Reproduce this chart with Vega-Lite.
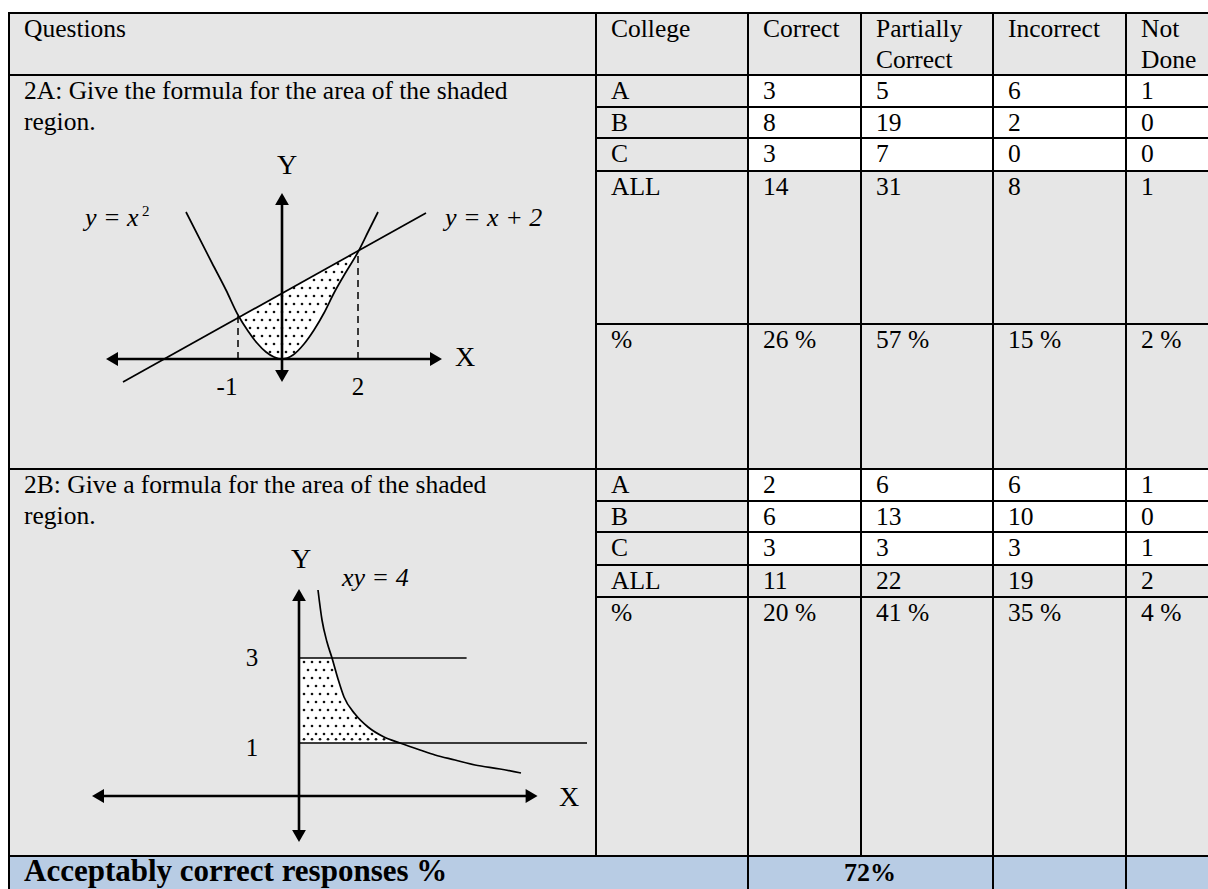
{
  "$schema": "https://vega.github.io/schema/vega-lite/v6.json",
  "width": 1208,
  "height": 889,
  "padding": 0,
  "autosize": {"type": "none"},
  "background": "#ffffff",
  "config": {"view": {"stroke": null}, "text": {"font": "Liberation Serif", "color": "#000000"}},
  "resolve": {"scale": {"x": "independent", "y": "independent"}},
  "layer": [
    {
      "layer": [
        {
          "data": {"values": [
            {"kind": "shaded", "c": 0, "c2": 6, "r": 0, "r2": 11},
            {"kind": "plain", "c": 2, "c2": 6, "r": 1, "r2": 4},
            {"kind": "plain", "c": 2, "c2": 6, "r": 6, "r2": 9},
            {"kind": "summary", "c": 0, "c2": 6, "r": 11, "r2": 12}
          ]},
          "mark": {"type": "rect"},
          "encoding": {
            "x": {"field": "c", "type": "quantitative", "axis": null, "scale": {"domain": [0,1,2,3,4,5,6], "range": [9,596,748,861,993,1126,1210], "nice": false, "zero": false}},
            "x2": {"field": "c2"},
            "y": {"field": "r", "type": "quantitative", "axis": null, "scale": {"domain": [0,1,2,3,4,5,6,7,8,9,10,11,12], "range": [13,75,107,138,171,324,469,501,532,565,597,856,892], "nice": false, "zero": false}},
            "y2": {"field": "r2"},
            "fill": {"field": "kind", "type": "nominal", "legend": null, "scale": {"domain": ["shaded", "plain", "summary"], "range": ["#e6e6e6", "#ffffff", "#b8cce4"]}}
          }
        },
        {
          "data": {"values": [
            {"c": 0, "c2": 6, "r": 0, "r2": 0},
            {"c": 0, "c2": 6, "r": 1, "r2": 1},
            {"c": 1, "c2": 6, "r": 2, "r2": 2},
            {"c": 1, "c2": 6, "r": 3, "r2": 3},
            {"c": 1, "c2": 6, "r": 4, "r2": 4},
            {"c": 1, "c2": 6, "r": 5, "r2": 5},
            {"c": 0, "c2": 6, "r": 6, "r2": 6},
            {"c": 1, "c2": 6, "r": 7, "r2": 7},
            {"c": 1, "c2": 6, "r": 8, "r2": 8},
            {"c": 1, "c2": 6, "r": 9, "r2": 9},
            {"c": 1, "c2": 6, "r": 10, "r2": 10},
            {"c": 0, "c2": 6, "r": 11, "r2": 11},
            {"c": 0, "c2": 0, "r": 0, "r2": 12},
            {"c": 1, "c2": 1, "r": 0, "r2": 11},
            {"c": 2, "c2": 2, "r": 0, "r2": 12},
            {"c": 3, "c2": 3, "r": 0, "r2": 11},
            {"c": 4, "c2": 4, "r": 0, "r2": 12},
            {"c": 5, "c2": 5, "r": 0, "r2": 12}
          ]},
          "mark": {"type": "rule", "color": "#000000", "strokeWidth": 2, "strokeCap": "square"},
          "encoding": {
            "x": {"field": "c", "type": "quantitative", "axis": null, "scale": {"domain": [0,1,2,3,4,5,6], "range": [9,596,748,861,993,1126,1210], "nice": false, "zero": false}},
            "x2": {"field": "c2"},
            "y": {"field": "r", "type": "quantitative", "axis": null, "scale": {"domain": [0,1,2,3,4,5,6,7,8,9,10,11,12], "range": [13,75,107,138,171,324,469,501,532,565,597,856,892], "nice": false, "zero": false}},
            "y2": {"field": "r2"}
          }
        },
        {
          "data": {"values": [
            {"c": 0, "r": 0, "t": "Questions"},
            {"c": 1, "r": 0, "t": "College"},
            {"c": 2, "r": 0, "t": "Correct"},
            {"c": 3, "r": 0, "t": "Partially\nCorrect"},
            {"c": 4, "r": 0, "t": "Incorrect"},
            {"c": 5, "r": 0, "t": "Not\nDone"},
            {"c": 0, "r": 1, "t": "2A: Give the formula for the area of the shaded\nregion."},
            {"c": 1, "r": 1, "t": "A"}, {"c": 2, "r": 1, "t": "3"}, {"c": 3, "r": 1, "t": "5"}, {"c": 4, "r": 1, "t": "6"}, {"c": 5, "r": 1, "t": "1"},
            {"c": 1, "r": 2, "t": "B"}, {"c": 2, "r": 2, "t": "8"}, {"c": 3, "r": 2, "t": "19"}, {"c": 4, "r": 2, "t": "2"}, {"c": 5, "r": 2, "t": "0"},
            {"c": 1, "r": 3, "t": "C"}, {"c": 2, "r": 3, "t": "3"}, {"c": 3, "r": 3, "t": "7"}, {"c": 4, "r": 3, "t": "0"}, {"c": 5, "r": 3, "t": "0"},
            {"c": 1, "r": 4, "t": "ALL"}, {"c": 2, "r": 4, "t": "14"}, {"c": 3, "r": 4, "t": "31"}, {"c": 4, "r": 4, "t": "8"}, {"c": 5, "r": 4, "t": "1"},
            {"c": 1, "r": 5, "t": "%"}, {"c": 2, "r": 5, "t": "26 %"}, {"c": 3, "r": 5, "t": "57 %"}, {"c": 4, "r": 5, "t": "15 %"}, {"c": 5, "r": 5, "t": "2 %"},
            {"c": 0, "r": 6, "t": "2B: Give a formula for the area of the shaded\nregion."},
            {"c": 1, "r": 6, "t": "A"}, {"c": 2, "r": 6, "t": "2"}, {"c": 3, "r": 6, "t": "6"}, {"c": 4, "r": 6, "t": "6"}, {"c": 5, "r": 6, "t": "1"},
            {"c": 1, "r": 7, "t": "B"}, {"c": 2, "r": 7, "t": "6"}, {"c": 3, "r": 7, "t": "13"}, {"c": 4, "r": 7, "t": "10"}, {"c": 5, "r": 7, "t": "0"},
            {"c": 1, "r": 8, "t": "C"}, {"c": 2, "r": 8, "t": "3"}, {"c": 3, "r": 8, "t": "3"}, {"c": 4, "r": 8, "t": "3"}, {"c": 5, "r": 8, "t": "1"},
            {"c": 1, "r": 9, "t": "ALL"}, {"c": 2, "r": 9, "t": "11"}, {"c": 3, "r": 9, "t": "22"}, {"c": 4, "r": 9, "t": "19"}, {"c": 5, "r": 9, "t": "2"},
            {"c": 1, "r": 10, "t": "%"}, {"c": 2, "r": 10, "t": "20 %"}, {"c": 3, "r": 10, "t": "41 %"}, {"c": 4, "r": 10, "t": "35 %"}, {"c": 5, "r": 10, "t": "4 %"}
          ]},
          "mark": {"type": "text", "align": "left", "baseline": "alphabetic", "dx": 15, "dy": 24, "fontSize": 25.5, "lineBreak": "\n", "lineHeight": 31},
          "encoding": {
            "x": {"field": "c", "type": "quantitative", "axis": null, "scale": {"domain": [0,1,2,3,4,5,6], "range": [9,596,748,861,993,1126,1210], "nice": false, "zero": false}},
            "y": {"field": "r", "type": "quantitative", "axis": null, "scale": {"domain": [0,1,2,3,4,5,6,7,8,9,10,11,12], "range": [13,75,107,138,171,324,469,501,532,565,597,856,892], "nice": false, "zero": false}},
            "text": {"field": "t"}
          }
        },
        {
          "data": {"values": [{"c": 0, "r": 11, "t": "Acceptably correct responses %"}]},
          "mark": {"type": "text", "align": "left", "baseline": "alphabetic", "dx": 15, "dy": 25, "fontSize": 31, "fontWeight": "bold"},
          "encoding": {
            "x": {"field": "c", "type": "quantitative", "axis": null, "scale": {"domain": [0,1,2,3,4,5,6], "range": [9,596,748,861,993,1126,1210], "nice": false, "zero": false}},
            "y": {"field": "r", "type": "quantitative", "axis": null, "scale": {"domain": [0,1,2,3,4,5,6,7,8,9,10,11,12], "range": [13,75,107,138,171,324,469,501,532,565,597,856,892], "nice": false, "zero": false}},
            "text": {"field": "t"}
          }
        },
        {
          "data": {"values": [{"c": 3, "r": 11, "t": "72%"}]},
          "mark": {"type": "text", "align": "center", "baseline": "alphabetic", "dx": 9, "dy": 25, "fontSize": 26, "fontWeight": "bold"},
          "encoding": {
            "x": {"field": "c", "type": "quantitative", "axis": null, "scale": {"domain": [0,1,2,3,4,5,6], "range": [9,596,748,861,993,1126,1210], "nice": false, "zero": false}},
            "y": {"field": "r", "type": "quantitative", "axis": null, "scale": {"domain": [0,1,2,3,4,5,6,7,8,9,10,11,12], "range": [13,75,107,138,171,324,469,501,532,565,597,856,892], "nice": false, "zero": false}},
            "text": {"field": "t"}
          }
        }
      ]
    },
    {
      "layer": [
        {
          "data": {"values": [
            {"x": -1.1, "lo": 1.1, "hi": 1.1},
            {"x": -0.85, "lo": 0.7, "hi": 1.169},
            {"x": -0.625, "lo": 0.4, "hi": 1.294},
            {"x": -0.4, "lo": 0.175, "hi": 1.42},
            {"x": -0.2, "lo": 0.05, "hi": 1.531},
            {"x": 0, "lo": 0, "hi": 1.643},
            {"x": 0.275, "lo": 0.1, "hi": 1.796},
            {"x": 0.55, "lo": 0.375, "hi": 1.95},
            {"x": 0.8, "lo": 0.725, "hi": 2.09},
            {"x": 1.05, "lo": 1.15, "hi": 2.229},
            {"x": 1.3, "lo": 1.65, "hi": 2.369},
            {"x": 1.6, "lo": 2.175, "hi": 2.536},
            {"x": 1.9, "lo": 2.675, "hi": 2.703}
          ]},
          "mark": {"type": "area", "fill": "#ffffff", "interpolate": "monotone"},
          "encoding": {
            "x": {"field": "x", "type": "quantitative", "axis": null, "scale": {"domain": [0, 10], "range": [282, 682], "nice": false, "zero": false}},
            "y": {"field": "lo", "type": "quantitative", "axis": null, "scale": {"domain": [0, 10], "range": [359, -41], "nice": false, "zero": false}},
            "y2": {"field": "hi"}
          }
        },
        {
          "data": {"values": [
            {"x": 1.7, "y": 2.575},
            {"x": 1.4, "y": 2.375}, {"x": 1.6, "y": 2.375},
            {"x": 1.1, "y": 2.175}, {"x": 1.3, "y": 2.175}, {"x": 1.5, "y": 2.175},
            {"x": 0.8, "y": 1.975}, {"x": 1.0, "y": 1.975}, {"x": 1.2, "y": 1.975}, {"x": 1.4, "y": 1.975},
            {"x": 0.3, "y": 1.775}, {"x": 0.5, "y": 1.775}, {"x": 0.7, "y": 1.775}, {"x": 0.9, "y": 1.775}, {"x": 1.1, "y": 1.775}, {"x": 1.3, "y": 1.775},
            {"x": 0.0, "y": 1.575}, {"x": 0.2, "y": 1.575}, {"x": 0.4, "y": 1.575}, {"x": 0.6, "y": 1.575}, {"x": 0.8, "y": 1.575}, {"x": 1.0, "y": 1.575}, {"x": 1.2, "y": 1.575},
            {"x": -0.3, "y": 1.375}, {"x": -0.1, "y": 1.375}, {"x": 0.1, "y": 1.375}, {"x": 0.3, "y": 1.375}, {"x": 0.5, "y": 1.375}, {"x": 0.7, "y": 1.375}, {"x": 0.9, "y": 1.375}, {"x": 1.1, "y": 1.375},
            {"x": -0.6, "y": 1.175}, {"x": -0.4, "y": 1.175}, {"x": -0.2, "y": 1.175}, {"x": 0.0, "y": 1.175}, {"x": 0.2, "y": 1.175}, {"x": 0.4, "y": 1.175}, {"x": 0.6, "y": 1.175}, {"x": 0.8, "y": 1.175},
            {"x": -0.9, "y": 0.975}, {"x": -0.7, "y": 0.975}, {"x": -0.5, "y": 0.975}, {"x": -0.3, "y": 0.975}, {"x": -0.1, "y": 0.975}, {"x": 0.1, "y": 0.975}, {"x": 0.3, "y": 0.975}, {"x": 0.5, "y": 0.975}, {"x": 0.7, "y": 0.975},
            {"x": -0.8, "y": 0.775}, {"x": -0.6, "y": 0.775}, {"x": -0.4, "y": 0.775}, {"x": -0.2, "y": 0.775}, {"x": 0.0, "y": 0.775}, {"x": 0.2, "y": 0.775}, {"x": 0.4, "y": 0.775}, {"x": 0.6, "y": 0.775},
            {"x": -0.7, "y": 0.575}, {"x": -0.5, "y": 0.575}, {"x": -0.3, "y": 0.575}, {"x": -0.1, "y": 0.575}, {"x": 0.1, "y": 0.575}, {"x": 0.3, "y": 0.575}, {"x": 0.5, "y": 0.575},
            {"x": -0.4, "y": 0.375}, {"x": -0.2, "y": 0.375}, {"x": 0.0, "y": 0.375}, {"x": 0.2, "y": 0.375}, {"x": 0.4, "y": 0.375},
            {"x": -0.3, "y": 0.175}, {"x": -0.1, "y": 0.175}, {"x": 0.1, "y": 0.175}, {"x": 0.3, "y": 0.175}
          ]},
          "mark": {"type": "point", "filled": true, "size": 7, "color": "#111111", "opacity": 1},
          "encoding": {
            "x": {"field": "x", "type": "quantitative", "axis": null, "scale": {"domain": [0, 10], "range": [282, 682], "nice": false, "zero": false}},
            "y": {"field": "y", "type": "quantitative", "axis": null, "scale": {"domain": [0, 10], "range": [359, -41], "nice": false, "zero": false}}
          }
        },
        {
          "data": {"values": [
            {"x": -2.4, "y": 3.675}, {"x": -1.75, "y": 2.4}, {"x": -1.4, "y": 1.725}, {"x": -1.1, "y": 1.1},
            {"x": -0.85, "y": 0.7}, {"x": -0.625, "y": 0.4}, {"x": -0.4, "y": 0.175}, {"x": -0.2, "y": 0.05},
            {"x": 0, "y": 0}, {"x": 0.275, "y": 0.1}, {"x": 0.55, "y": 0.375}, {"x": 0.8, "y": 0.725},
            {"x": 1.05, "y": 1.15}, {"x": 1.3, "y": 1.65}, {"x": 1.6, "y": 2.175}, {"x": 1.9, "y": 2.675},
            {"x": 2.15, "y": 3.175}, {"x": 2.4, "y": 3.675}
          ]},
          "mark": {"type": "line", "color": "#000000", "strokeWidth": 1.7, "interpolate": "monotone"},
          "encoding": {
            "x": {"field": "x", "type": "quantitative", "axis": null, "scale": {"domain": [0, 10], "range": [282, 682], "nice": false, "zero": false}},
            "y": {"field": "y", "type": "quantitative", "axis": null, "scale": {"domain": [0, 10], "range": [359, -41], "nice": false, "zero": false}}
          }
        },
        {
          "data": {"values": [
            {"x": -3.975, "y": -0.575, "x2": 3.6, "y2": 3.65}
          ]},
          "mark": {"type": "rule", "color": "#000000", "strokeWidth": 1.7},
          "encoding": {
            "x": {"field": "x", "type": "quantitative", "axis": null, "scale": {"domain": [0, 10], "range": [282, 682], "nice": false, "zero": false}},
            "y": {"field": "y", "type": "quantitative", "axis": null, "scale": {"domain": [0, 10], "range": [359, -41], "nice": false, "zero": false}},
            "x2": {"field": "x2"},
            "y2": {"field": "y2"}
          }
        },
        {
          "data": {"values": [
            {"x": -1.1, "y": 0, "x2": -1.1, "y2": 1.1},
            {"x": 1.9, "y": 0, "x2": 1.9, "y2": 2.675}
          ]},
          "mark": {"type": "rule", "color": "#000000", "strokeWidth": 1.5, "strokeDash": [7, 5]},
          "encoding": {
            "x": {"field": "x", "type": "quantitative", "axis": null, "scale": {"domain": [0, 10], "range": [282, 682], "nice": false, "zero": false}},
            "y": {"field": "y", "type": "quantitative", "axis": null, "scale": {"domain": [0, 10], "range": [359, -41], "nice": false, "zero": false}},
            "x2": {"field": "x2"},
            "y2": {"field": "y2"}
          }
        },
        {
          "data": {"values": [
            {"x": -4.25, "y": 0, "x2": 3.85, "y2": 0},
            {"x": 0, "y": -0.425, "x2": 0, "y2": 4.0}
          ]},
          "mark": {"type": "rule", "color": "#000000", "strokeWidth": 2.6},
          "encoding": {
            "x": {"field": "x", "type": "quantitative", "axis": null, "scale": {"domain": [0, 10], "range": [282, 682], "nice": false, "zero": false}},
            "y": {"field": "y", "type": "quantitative", "axis": null, "scale": {"domain": [0, 10], "range": [359, -41], "nice": false, "zero": false}},
            "x2": {"field": "x2"},
            "y2": {"field": "y2"}
          }
        },
        {
          "data": {"values": [
            {"x": 0, "y": 4.0, "dir": "up"},
            {"x": 0, "y": -0.425, "dir": "down"},
            {"x": -4.25, "y": 0, "dir": "left"},
            {"x": 3.85, "y": 0, "dir": "right"}
          ]},
          "mark": {"type": "point", "filled": true, "size": 190, "color": "#000000", "opacity": 1},
          "encoding": {
            "x": {"field": "x", "type": "quantitative", "axis": null, "scale": {"domain": [0, 10], "range": [282, 682], "nice": false, "zero": false}},
            "y": {"field": "y", "type": "quantitative", "axis": null, "scale": {"domain": [0, 10], "range": [359, -41], "nice": false, "zero": false}},
            "shape": {"field": "dir", "type": "nominal", "legend": null, "scale": {"domain": ["up", "down", "left", "right"], "range": ["triangle-up", "triangle-down", "triangle-left", "triangle-right"]}}
          }
        },
        {
          "data": {"values": [
            {"x": 0.125, "y": 4.825, "t": "Y"},
            {"x": 4.575, "y": 0.025, "t": "X"}
          ]},
          "mark": {"type": "text", "align": "center", "baseline": "middle", "fontSize": 28},
          "encoding": {
            "x": {"field": "x", "type": "quantitative", "axis": null, "scale": {"domain": [0, 10], "range": [282, 682], "nice": false, "zero": false}},
            "y": {"field": "y", "type": "quantitative", "axis": null, "scale": {"domain": [0, 10], "range": [359, -41], "nice": false, "zero": false}},
            "text": {"field": "t"}
          }
        },
        {
          "data": {"values": [
            {"x": -1.375, "y": -0.7, "t": "-1"},
            {"x": 1.9, "y": -0.7, "t": "2"}
          ]},
          "mark": {"type": "text", "align": "center", "baseline": "middle", "fontSize": 25},
          "encoding": {
            "x": {"field": "x", "type": "quantitative", "axis": null, "scale": {"domain": [0, 10], "range": [282, 682], "nice": false, "zero": false}},
            "y": {"field": "y", "type": "quantitative", "axis": null, "scale": {"domain": [0, 10], "range": [359, -41], "nice": false, "zero": false}},
            "text": {"field": "t"}
          }
        },
        {
          "data": {"values": [
            {"x": -4.925, "y": 3.525, "t": "y = x"},
            {"x": 4.075, "y": 3.525, "t": "y = x + 2"}
          ]},
          "mark": {"type": "text", "align": "left", "baseline": "middle", "fontSize": 26, "fontStyle": "italic"},
          "encoding": {
            "x": {"field": "x", "type": "quantitative", "axis": null, "scale": {"domain": [0, 10], "range": [282, 682], "nice": false, "zero": false}},
            "y": {"field": "y", "type": "quantitative", "axis": null, "scale": {"domain": [0, 10], "range": [359, -41], "nice": false, "zero": false}},
            "text": {"field": "t"}
          }
        },
        {
          "data": {"values": [
            {"x": -3.5, "y": 3.7, "t": "2"}
          ]},
          "mark": {"type": "text", "align": "left", "baseline": "middle", "fontSize": 15},
          "encoding": {
            "x": {"field": "x", "type": "quantitative", "axis": null, "scale": {"domain": [0, 10], "range": [282, 682], "nice": false, "zero": false}},
            "y": {"field": "y", "type": "quantitative", "axis": null, "scale": {"domain": [0, 10], "range": [359, -41], "nice": false, "zero": false}},
            "text": {"field": "t"}
          }
        }
      ]
    },
    {
      "layer": [
        {
          "data": {"values": [
            {"x": 0, "lo": 1.325, "hi": 3.45},
            {"x": 0.825, "lo": 1.325, "hi": 3.45},
            {"x": 0.975, "lo": 1.325, "hi": 2.925},
            {"x": 1.125, "lo": 1.325, "hi": 2.475},
            {"x": 1.4, "lo": 1.325, "hi": 2.05},
            {"x": 1.725, "lo": 1.325, "hi": 1.725},
            {"x": 2.125, "lo": 1.325, "hi": 1.475},
            {"x": 2.525, "lo": 1.325, "hi": 1.325}
          ]},
          "mark": {"type": "area", "fill": "#ffffff", "interpolate": "linear"},
          "encoding": {
            "x": {"field": "x", "type": "quantitative", "axis": null, "scale": {"domain": [0, 10], "range": [299, 699], "nice": false, "zero": false}},
            "y": {"field": "lo", "type": "quantitative", "axis": null, "scale": {"domain": [0, 10], "range": [796, 396], "nice": false, "zero": false}},
            "y2": {"field": "hi"}
          }
        },
        {
          "data": {"values": [
            {"x": 0.125, "y": 3.35}, {"x": 0.325, "y": 3.35}, {"x": 0.525, "y": 3.35}, {"x": 0.725, "y": 3.35},
            {"x": 0.225, "y": 3.15}, {"x": 0.425, "y": 3.15}, {"x": 0.625, "y": 3.15}, {"x": 0.825, "y": 3.15},
            {"x": 0.125, "y": 2.95}, {"x": 0.325, "y": 2.95}, {"x": 0.525, "y": 2.95}, {"x": 0.725, "y": 2.95},
            {"x": 0.225, "y": 2.75}, {"x": 0.425, "y": 2.75}, {"x": 0.625, "y": 2.75}, {"x": 0.825, "y": 2.75},
            {"x": 0.125, "y": 2.55}, {"x": 0.325, "y": 2.55}, {"x": 0.525, "y": 2.55}, {"x": 0.725, "y": 2.55}, {"x": 0.925, "y": 2.55},
            {"x": 0.225, "y": 2.35}, {"x": 0.425, "y": 2.35}, {"x": 0.625, "y": 2.35}, {"x": 0.825, "y": 2.35}, {"x": 1.025, "y": 2.35},
            {"x": 0.125, "y": 2.15}, {"x": 0.325, "y": 2.15}, {"x": 0.525, "y": 2.15}, {"x": 0.725, "y": 2.15}, {"x": 0.925, "y": 2.15}, {"x": 1.125, "y": 2.15},
            {"x": 0.225, "y": 1.95}, {"x": 0.425, "y": 1.95}, {"x": 0.625, "y": 1.95}, {"x": 0.825, "y": 1.95}, {"x": 1.025, "y": 1.95}, {"x": 1.225, "y": 1.95}, {"x": 1.425, "y": 1.95},
            {"x": 0.125, "y": 1.75}, {"x": 0.325, "y": 1.75}, {"x": 0.525, "y": 1.75}, {"x": 0.725, "y": 1.75}, {"x": 0.925, "y": 1.75}, {"x": 1.125, "y": 1.75}, {"x": 1.325, "y": 1.75}, {"x": 1.525, "y": 1.75},
            {"x": 0.225, "y": 1.55}, {"x": 0.425, "y": 1.55}, {"x": 0.625, "y": 1.55}, {"x": 0.825, "y": 1.55}, {"x": 1.025, "y": 1.55}, {"x": 1.225, "y": 1.55}, {"x": 1.425, "y": 1.55}, {"x": 1.625, "y": 1.55}, {"x": 1.825, "y": 1.55},
            {"x": 0.125, "y": 1.42}, {"x": 0.325, "y": 1.42}, {"x": 0.525, "y": 1.42}, {"x": 0.725, "y": 1.42}, {"x": 0.925, "y": 1.42}, {"x": 1.125, "y": 1.42}, {"x": 1.325, "y": 1.42}, {"x": 1.525, "y": 1.42}, {"x": 1.725, "y": 1.42}, {"x": 1.925, "y": 1.42}, {"x": 2.125, "y": 1.42}
          ]},
          "mark": {"type": "point", "filled": true, "size": 7, "color": "#111111", "opacity": 1},
          "encoding": {
            "x": {"field": "x", "type": "quantitative", "axis": null, "scale": {"domain": [0, 10], "range": [299, 699], "nice": false, "zero": false}},
            "y": {"field": "y", "type": "quantitative", "axis": null, "scale": {"domain": [0, 10], "range": [796, 396], "nice": false, "zero": false}}
          }
        },
        {
          "data": {"values": [
            {"x": 0.475, "y": 5.15}, {"x": 0.575, "y": 4.4}, {"x": 0.7, "y": 3.85}, {"x": 0.825, "y": 3.45},
            {"x": 0.975, "y": 2.925}, {"x": 1.125, "y": 2.475}, {"x": 1.4, "y": 2.05}, {"x": 1.725, "y": 1.725},
            {"x": 2.125, "y": 1.475}, {"x": 2.525, "y": 1.325}, {"x": 3.025, "y": 1.15}, {"x": 3.4, "y": 1.025},
            {"x": 3.9, "y": 0.9}, {"x": 4.4, "y": 0.775}, {"x": 5.025, "y": 0.675}, {"x": 5.55, "y": 0.575}
          ]},
          "mark": {"type": "line", "color": "#000000", "strokeWidth": 1.7, "interpolate": "monotone"},
          "encoding": {
            "x": {"field": "x", "type": "quantitative", "axis": null, "scale": {"domain": [0, 10], "range": [299, 699], "nice": false, "zero": false}},
            "y": {"field": "y", "type": "quantitative", "axis": null, "scale": {"domain": [0, 10], "range": [796, 396], "nice": false, "zero": false}}
          }
        },
        {
          "data": {"values": [
            {"x": 0, "y": 3.45, "x2": 4.19, "y2": 3.45},
            {"x": 0, "y": 1.325, "x2": 7.2, "y2": 1.325}
          ]},
          "mark": {"type": "rule", "color": "#000000", "strokeWidth": 1.7},
          "encoding": {
            "x": {"field": "x", "type": "quantitative", "axis": null, "scale": {"domain": [0, 10], "range": [299, 699], "nice": false, "zero": false}},
            "y": {"field": "y", "type": "quantitative", "axis": null, "scale": {"domain": [0, 10], "range": [796, 396], "nice": false, "zero": false}},
            "x2": {"field": "x2"},
            "y2": {"field": "y2"}
          }
        },
        {
          "data": {"values": [
            {"x": -5.025, "y": 0, "x2": 5.815, "y2": 0},
            {"x": 0, "y": -1.0, "x2": 0, "y2": 5.025}
          ]},
          "mark": {"type": "rule", "color": "#000000", "strokeWidth": 2.6},
          "encoding": {
            "x": {"field": "x", "type": "quantitative", "axis": null, "scale": {"domain": [0, 10], "range": [299, 699], "nice": false, "zero": false}},
            "y": {"field": "y", "type": "quantitative", "axis": null, "scale": {"domain": [0, 10], "range": [796, 396], "nice": false, "zero": false}},
            "x2": {"field": "x2"},
            "y2": {"field": "y2"}
          }
        },
        {
          "data": {"values": [
            {"x": 0, "y": 5.025, "dir": "up"},
            {"x": 0, "y": -1.0, "dir": "down"},
            {"x": -5.025, "y": 0, "dir": "left"},
            {"x": 5.815, "y": 0, "dir": "right"}
          ]},
          "mark": {"type": "point", "filled": true, "size": 190, "color": "#000000", "opacity": 1},
          "encoding": {
            "x": {"field": "x", "type": "quantitative", "axis": null, "scale": {"domain": [0, 10], "range": [299, 699], "nice": false, "zero": false}},
            "y": {"field": "y", "type": "quantitative", "axis": null, "scale": {"domain": [0, 10], "range": [796, 396], "nice": false, "zero": false}},
            "shape": {"field": "dir", "type": "nominal", "legend": null, "scale": {"domain": ["up", "down", "left", "right"], "range": ["triangle-up", "triangle-down", "triangle-left", "triangle-right"]}}
          }
        },
        {
          "data": {"values": [
            {"x": 0.05, "y": 5.9, "t": "Y"},
            {"x": 6.75, "y": -0.05, "t": "X"}
          ]},
          "mark": {"type": "text", "align": "center", "baseline": "middle", "fontSize": 28},
          "encoding": {
            "x": {"field": "x", "type": "quantitative", "axis": null, "scale": {"domain": [0, 10], "range": [299, 699], "nice": false, "zero": false}},
            "y": {"field": "y", "type": "quantitative", "axis": null, "scale": {"domain": [0, 10], "range": [796, 396], "nice": false, "zero": false}},
            "text": {"field": "t"}
          }
        },
        {
          "data": {"values": [
            {"x": -1.175, "y": 3.45, "t": "3"},
            {"x": -1.175, "y": 1.2, "t": "1"}
          ]},
          "mark": {"type": "text", "align": "center", "baseline": "middle", "fontSize": 25},
          "encoding": {
            "x": {"field": "x", "type": "quantitative", "axis": null, "scale": {"domain": [0, 10], "range": [299, 699], "nice": false, "zero": false}},
            "y": {"field": "y", "type": "quantitative", "axis": null, "scale": {"domain": [0, 10], "range": [796, 396], "nice": false, "zero": false}},
            "text": {"field": "t"}
          }
        },
        {
          "data": {"values": [
            {"x": 1.075, "y": 5.45, "t": "xy = 4"}
          ]},
          "mark": {"type": "text", "align": "left", "baseline": "middle", "fontSize": 26, "fontStyle": "italic"},
          "encoding": {
            "x": {"field": "x", "type": "quantitative", "axis": null, "scale": {"domain": [0, 10], "range": [299, 699], "nice": false, "zero": false}},
            "y": {"field": "y", "type": "quantitative", "axis": null, "scale": {"domain": [0, 10], "range": [796, 396], "nice": false, "zero": false}},
            "text": {"field": "t"}
          }
        }
      ]
    }
  ]
}
